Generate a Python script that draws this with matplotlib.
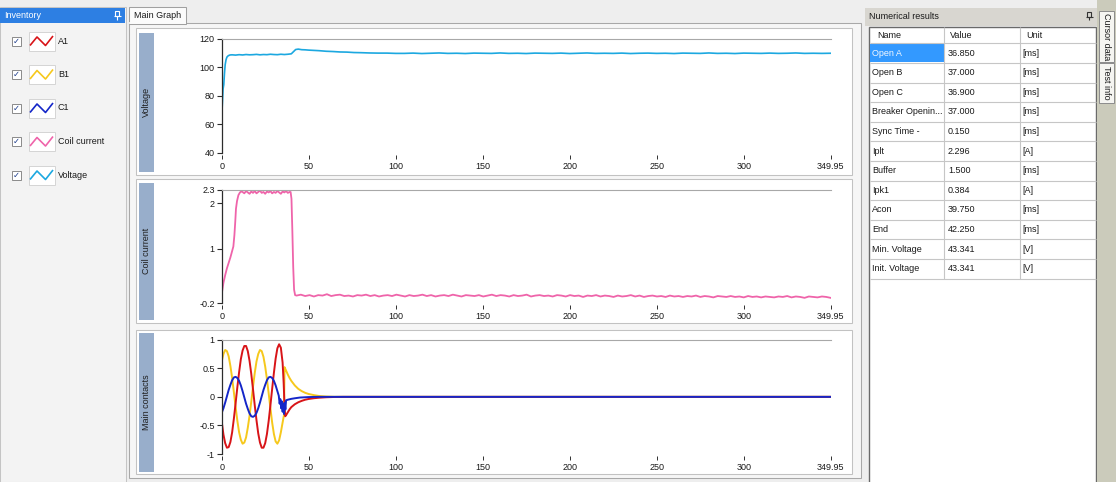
import numpy as np
import matplotlib
matplotlib.use("Agg")
import matplotlib.pyplot as plt
from matplotlib.patches import Rectangle

plt.rcParams['font.family'] = ['Liberation Sans', 'DejaVu Sans']
plt.rcParams['axes.unicode_minus'] = False

# ------------------------------------------------------------------ data
inventory_names = ["A1", "B1", "C1", "Coil current", "Voltage"]
panel_titles = ["Voltage", "Coil current", "Main contacts"]

x_ticks = [0, 50, 100, 150, 200, 250, 300, 349.95]
x_tick_labels = ["0", "50", "100", "150", "200", "250", "300", "349.95"]
x_max = 349.95

volt_ticks = [40, 60, 80, 100, 120]
coil_ticks = [-0.2, 1, 2, 2.3]
coil_tick_labels = ["-0.2", "1", "2", "2.3"]
cont_ticks = [-1, -0.5, 0, 0.5, 1]
cont_tick_labels = ["-1", "-0.5", "0", "0.5", "1"]

# Voltage [V] vs time [ms]
volt_head_t = [0, 0.4, 0.8, 1.2, 1.6, 2.0, 2.5, 3.0, 3.8, 4.8, 6, 8, 10, 12, 14, 16, 18,
               20, 22, 24, 26, 28, 30, 32, 34, 36, 38, 40, 41, 42.5, 44, 46, 48, 50,
               53, 56, 60, 64, 68, 72, 76, 80, 85, 90, 95, 100]
volt_head_v = [65, 75, 85, 88, 96, 102, 105.5, 107.3, 108.3, 108.8, 108.9, 108.7, 109.0,
               108.8, 109.1, 108.9, 109.0, 109.2, 108.9, 109.1, 109.0, 109.3, 109.1,
               109.0, 109.3, 109.1, 109.3, 109.6, 110.8, 112.6, 112.9, 112.5, 112.4,
               112.2, 112.0, 111.8, 111.4, 111.2, 110.9, 110.8, 110.5, 110.4, 110.2,
               110.1, 110.1, 109.9]
volt_tail_v = [109.9, 110.1, 109.8, 110.0, 110.2, 109.9, 110.0, 109.8, 110.1, 110.0,
               109.9, 110.2, 109.9, 110.0, 109.8, 110.1, 110.0, 109.9, 110.1, 109.8,
               110.0, 110.2, 109.9, 110.0, 109.9, 110.1, 109.8, 110.0, 110.1, 109.9,
               110.0, 109.8, 110.1, 110.0, 109.9, 110.2, 109.9, 110.0, 109.8, 110.1,
               110.0, 109.9, 110.1, 109.9, 110.0, 110.2, 109.9, 110.0, 109.9, 110.0]

# Coil current [A] vs time [ms]
coil_rise_t = [0, 0.5, 1, 2, 3, 4, 5, 6, 6.7, 7.3, 7.8, 8.2, 8.8, 9.6, 10.5, 11.2]
coil_rise_v = [0.0, 0.12, 0.25, 0.42, 0.57, 0.69, 0.81, 0.95, 1.05, 1.3, 1.6, 1.88,
               2.05, 2.18, 2.24, 2.26]
coil_plateau_v = [2.25, 2.22, 2.27, 2.24, 2.21, 2.26, 2.23, 2.27, 2.22, 2.25, 2.28, 2.23,
                  2.25, 2.21, 2.26, 2.24, 2.27, 2.22, 2.25, 2.23, 2.27, 2.24, 2.21, 2.26,
                  2.24, 2.27, 2.23, 2.25]          # t = 12 ... 39
coil_drop_t = [39.6, 40.1, 40.6, 41.1, 41.6, 42.2]
coil_drop_v = [2.25, 2.1, 1.4, 0.6, 0.1, -0.02]
coil_low_v = [-0.03, -0.01, -0.04, -0.02, -0.05, -0.02, -0.03, 0.00, -0.04, -0.02,
              -0.01, -0.04, -0.03, -0.05, -0.02, -0.03, -0.01, -0.04, -0.02, -0.05,
              -0.03, -0.02, -0.04, -0.01, -0.03, -0.05, -0.02, -0.04, -0.03, -0.01,
              -0.04, -0.02, -0.05, -0.03, -0.02, -0.04, -0.01, -0.03, -0.05, -0.02,
              -0.03, -0.04, -0.02, -0.05, -0.03, -0.01, -0.04, -0.02, -0.03, -0.05,
              -0.02, -0.04, -0.03, -0.01, -0.05, -0.03, -0.02, -0.04, -0.03, -0.05,
              -0.02, -0.03, -0.05, -0.02, -0.04, -0.03, -0.06, -0.03, -0.04, -0.02,
              -0.05, -0.03, -0.04, -0.06, -0.03, -0.05, -0.04, -0.02, -0.05, -0.03,
              -0.06, -0.04, -0.03, -0.05, -0.04, -0.06, -0.03, -0.05, -0.04, -0.06,
              -0.04, -0.05, -0.03, -0.06, -0.04, -0.05, -0.07, -0.04, -0.05, -0.06,
              -0.04, -0.06, -0.05, -0.07, -0.04, -0.06, -0.05, -0.07, -0.05, -0.06,
              -0.07, -0.05, -0.06, -0.04, -0.07, -0.05, -0.06, -0.08, -0.05, -0.06,
              -0.07, -0.05, -0.06, -0.08]          # t = 43 ... 349.95

# Main contacts (normalised) vs time [ms]
a1_t = list(range(0, 35)) + [35, 35.6, 36.1, 36.5, 37, 38, 39, 40, 42, 44, 46, 48, 50,
                             53, 56, 60, 65, 70, 349.95]
a1_v = [-0.43, -0.66, -0.81, -0.89, -0.88, -0.79, -0.62, -0.38, -0.11, 0.17, 0.43, 0.66,
        0.81, 0.89, 0.89, 0.80, 0.63, 0.40, 0.13, -0.15, -0.41, -0.64, -0.80, -0.89,
        -0.89, -0.81, -0.65, -0.42, -0.15, 0.14, 0.42, 0.67, 0.85, 0.92, 0.86,
        0.60, 0.25, -0.15, -0.34, -0.32, -0.27, -0.22, -0.18, -0.13, -0.095, -0.07,
        -0.05, -0.037, -0.024, -0.015, -0.007, -0.002, 0.0, 0.0]
b1_t = list(range(0, 35)) + [35, 35.8, 36.1, 37, 38, 39, 40, 42, 44, 46, 48, 50, 53, 56,
                             60, 65, 70, 349.95]
b1_v = [0.62, 0.75, 0.82, 0.80, 0.71, 0.54, 0.33, 0.08, -0.18, -0.42, -0.62, -0.75,
        -0.82, -0.80, -0.71, -0.54, -0.33, -0.08, 0.18, 0.42, 0.62, 0.75, 0.82, 0.80,
        0.70, 0.53, 0.31, 0.06, -0.20, -0.45, -0.65, -0.78, -0.82, -0.76, -0.62,
        -0.45, -0.32, 0.52, 0.46, 0.39, 0.33, 0.28, 0.20, 0.14, 0.10, 0.07, 0.05, 0.03,
        0.015, 0.006, 0.001, 0.0, 0.0]
c1_t = list(range(0, 33)) + [32.8, 33.3, 33.7, 34.2, 34.6, 35.0, 35.4, 35.8, 36.2, 36.6,
                             37, 38, 40, 42, 45, 50, 55, 349.95]
c1_v = [-0.28, -0.20, -0.10, 0.01, 0.12, 0.21, 0.29, 0.34, 0.35, 0.33, 0.28, 0.20, 0.10,
        -0.01, -0.12, -0.21, -0.29, -0.34, -0.35, -0.33, -0.28, -0.20, -0.10, 0.01, 0.12,
        0.21, 0.29, 0.34, 0.35, 0.33, 0.28, 0.20, 0.10,
        0.02, -0.12, -0.04, -0.20, -0.08, -0.26, -0.12, -0.30, -0.10, -0.22, -0.06,
        -0.05, -0.035, -0.025, -0.012, -0.004, 0.0, 0.0]

# Numerical results table
result_names = ["Open A", "Open B", "Open C", "Breaker Openin...", "Sync Time -", "Iplt",
                "Buffer", "Ipk1", "Acon", "End", "Min. Voltage", "Init. Voltage"]
result_values = ["36.850", "37.000", "36.900", "37.000", "0.150", "2.296", "1.500",
                 "0.384", "39.750", "42.250", "43.341", "43.341"]
result_units = ["[ms]", "[ms]", "[ms]", "[ms]", "[ms]", "[A]", "[ms]", "[A]", "[ms]",
                "[ms]", "[V]", "[V]"]

# ------------------------------------------------------------------ styles
COL = {"A1": "#d81418", "B1": "#f6c81c", "C1": "#1426c8",
       "Coil current": "#ef64aa", "Voltage": "#1ca8e0"}
TXT = "#1a1a1a"
FS = 6.5

W, H = 1116, 482
fig = plt.figure(figsize=(W / 100, H / 100), dpi=100, facecolor="#eeeeee")
bg = fig.add_axes([0, 0, 1, 1], zorder=0)
bg.set_xlim(0, W)
bg.set_ylim(H, 0)
bg.axis("off")


def rect(x0, y0, x1, y1, fc, ec="none", lw=0.75, z=1):
    bg.add_patch(Rectangle((x0, y0), x1 - x0, y1 - y0, facecolor=fc, edgecolor=ec,
                           linewidth=lw, zorder=z))


def line(xs, ys, c, lw=0.75, z=2):
    bg.plot(xs, ys, color=c, lw=lw, zorder=z, solid_capstyle="butt")


def txt(x, y, s, **kw):
    kw.setdefault("fontsize", FS)
    kw.setdefault("color", TXT)
    kw.setdefault("va", "center")
    bg.text(x, y, s, zorder=4, **kw)


def pin(x, y, c):
    rect(x - 2, y - 4, x + 2, y + 1, "none", ec=c, lw=0.8, z=3)
    line([x - 3.5, x + 3.5], [y + 1, y + 1], c, lw=0.8, z=3)
    line([x, x], [y + 1, y + 4.5], c, lw=0.8, z=3)


# ---- left inventory panel
rect(0, 7, 125.5, 482, "#f3f3f3", ec="#c4c4c4")
rect(0, 7.5, 125, 23, "#2d7fe3")
txt(4, 15.5, "Inventory", color="white")
pin(117, 15, "white")
item_y = [41, 74.5, 108, 141.5, 175]
for name, yc in zip(inventory_names, item_y):
    rect(11.5, yc - 4.5, 20.5, yc + 4.5, "white", ec="#8a8a8a", lw=0.7, z=2)
    txt(16, yc + 0.3, "\u2713", ha="center", fontsize=6, color="#1c3c8c",
        family="DejaVu Sans", fontweight="bold")
    rect(28.5, yc - 9.5, 54.5, yc + 9.5, "white", ec="#d4d4d4", lw=0.7, z=2)
    line([30, 37, 45.5, 53], [yc + 4.5, yc - 4, yc + 4.5, yc - 5], COL[name], lw=1.2, z=3)
    txt(58, yc, name)

# ---- main graph tab page
rect(129, 23, 861, 478, "#f6f6f6", ec="#a8a8a8")
rect(129, 7, 186, 23.5, "#fbfbfb", ec="#a0a0a0")
line([129.4, 185.6], [23, 23], "#fbfbfb", lw=1.2, z=3)
txt(134, 15.5, "Main Graph")
panel_boxes = [(28, 175, 32.5, 171.5), (179, 323, 182.7, 320), (330, 474, 333, 471.7)]
for title, (t0, t1, b0, b1) in zip(panel_titles, panel_boxes):
    rect(136, t0, 852, t1, "white", ec="#c2c2c2")
    rect(139.3, b0, 153.5, b1, "#98aecb", z=2)
    txt(146.6, (b0 + b1) / 2, title, rotation=90, ha="center", color="#202020")

# ---- right panel: numerical results
rect(865, 8, 1097, 25.5, "#d8d6d0")
txt(869, 16.5, "Numerical results")
pin(1089, 15.5, "#333333")
rect(869.3, 26.7, 1096, 483, "white", ec="#6a6a6a", lw=1.0)
row0, rowh = 43.3, 19.6
n = len(result_names)
rect(870, row0 + 0.4, 944.3, row0 + rowh - 0.4, "#3399ff", z=2)
for k in range(n + 1):
    line([869.8, 1095.6], [row0 + k * rowh] * 2, "#c6c6c6", lw=0.8)
for xc in (944.3, 1020):
    line([xc, xc], [27.2, row0 + n * rowh], "#c6c6c6", lw=0.8)
txt(877, 35.5, "Name")
txt(950, 35.5, "Value")
txt(1026, 35.5, "Unit")
for k, (nm, vl, un) in enumerate(zip(result_names, result_values, result_units)):
    yc = row0 + (k + 0.5) * rowh
    txt(872, yc, nm, color="#f2f8ff" if k == 0 else TXT)
    txt(948, yc, vl)
    txt(1022, yc, un)

# side strip with vertical tabs
rect(1097, 0, 1116, 482, "#cbcbbb")
for (y0, y1, s) in [(10.5, 62, "Cursor data"), (63, 103, "Test info")]:
    rect(1099, y0, 1114, y1, "#f5f5f1", ec="#8c8c8c", lw=0.7, z=2)
    txt(1106.5, (y0 + y1) / 2, s, rotation=-90, ha="center")

# ------------------------------------------------------------------ charts
X0, X1 = 221.7, 830.6


def make_axes(top_px, bot_px):
    ax = fig.add_axes([X0 / W, 1 - bot_px / H, (X1 - X0) / W, (bot_px - top_px) / H],
                      zorder=2)
    ax.set_facecolor("none")
    ax.set_xlim(0, x_max)
    ax.spines["right"].set_visible(False)
    ax.spines["top"].set_color("#a8a8a8")
    ax.spines["top"].set_linewidth(0.8)
    ax.spines["left"].set_color("#2c2c2c")
    ax.spines["left"].set_linewidth(0.9)
    ax.spines["bottom"].set_position(("outward", 1.5))
    ax.spines["bottom"].set_visible(False)
    ax.set_xticks(x_ticks)
    ax.set_xticklabels(x_tick_labels)
    ax.tick_params(axis="x", direction="out", length=3, width=0.7, pad=2,
                   labelsize=FS, color="#303030", labelcolor=TXT)
    ax.tick_params(axis="y", direction="out", length=3.5, width=0.8, pad=1.5,
                   labelsize=FS, color="#2c2c2c", labelcolor=TXT)
    return ax


# Voltage
ax1 = make_axes(39, 153)
volt_t = volt_head_t + list(np.linspace(105, x_max, len(volt_tail_v)))
volt_v = volt_head_v + volt_tail_v
ax1.plot(volt_t, volt_v, color=COL["Voltage"], lw=1.2)
ax1.set_ylim(40, 120)
ax1.set_yticks(volt_ticks)

# Coil current
ax2 = make_axes(189.7, 303.3)
coil_t = (coil_rise_t + list(np.arange(12, 40)) + coil_drop_t
          + list(np.linspace(43, x_max, len(coil_low_v))))
coil_v = coil_rise_v + coil_plateau_v + coil_drop_v + coil_low_v
ax2.plot(coil_t, coil_v, color=COL["Coil current"], lw=1.3)
ax2.set_ylim(-0.2, 2.3)
ax2.set_yticks(coil_ticks)
ax2.set_yticklabels(coil_tick_labels)

# Main contacts
ax3 = make_axes(339.7, 454)
ax3.plot(b1_t, b1_v, color=COL["B1"], lw=1.4)
ax3.plot(a1_t, a1_v, color=COL["A1"], lw=1.4)
ax3.plot(c1_t, c1_v, color=COL["C1"], lw=1.4)
ax3.set_ylim(-1, 1)
ax3.set_yticks(cont_ticks)
ax3.set_yticklabels(cont_tick_labels)

fig.savefig("out.png", dpi=100, facecolor=fig.get_facecolor())
